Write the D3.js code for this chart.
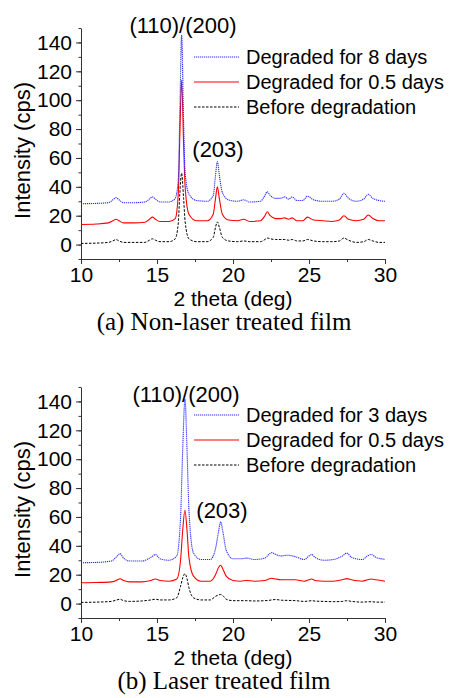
<!DOCTYPE html>
<html lang="en">
<head>
<meta charset="UTF-8">
<title>XRD patterns</title>
<script src="https://cdn.jsdelivr.net/npm/d3@7"></script>
<style>
  body { margin: 0; background: #fff; }
  svg text { font-family: "Liberation Sans", Arial, sans-serif; fill: #000; }
  svg text.caption { font-family: "Liberation Serif", "Times New Roman", serif; }
  .axis path, .axis line { stroke: #333; }
</style>
</head>
<body>
<svg id="chart" width="449" height="698"></svg>
<script>
// panel (a): non-laser treated film
var thetaA = [10, 11, 11.8, 12.1, 12.3, 12.5, 12.8, 13.5, 14.2, 14.5, 14.7, 14.9, 15.2, 15.8, 16.2, 16.4, 16.5, 16.62, 16.75, 16.85, 17.1, 17.6, 18.3, 18.7, 18.85, 18.97, 19.1, 19.3, 19.7, 20.3, 20.7, 21.1, 21.8, 22.1, 22.25, 22.45, 22.8, 23.1, 23.4, 23.65, 23.9, 24.2, 24.6, 24.9, 25.3, 25.9, 26.5, 27.0, 27.3, 27.6, 28.1, 28.6, 28.9, 29.2, 29.6, 30];
var blueA = [28.3, 28.5, 29, 31, 32.5, 31, 29, 29, 29.5, 31.5, 33, 31.5, 29.5, 29.5, 32, 45, 90, 145, 85, 50, 35, 30.5, 30, 34, 48, 57.5, 48, 36, 31, 30, 31, 29.5, 30, 34, 36.6, 34, 32, 32, 33, 31.5, 33, 30.5, 30.5, 33.5, 31, 30, 30, 31.5, 35.5, 32, 30, 31.5, 34.8, 32, 30.5, 30];
var redA = [13.9, 14.2, 15, 16.5, 17.5, 16.5, 15, 15, 15.5, 17.5, 19, 17.5, 16, 16, 18, 35, 75, 114, 70, 40, 21, 16.5, 16.5, 21, 32, 40, 32, 21, 17, 16.5, 17.5, 16, 16.5, 20, 22.7, 20, 18, 18, 18.5, 17.5, 18.5, 16.5, 16.5, 19, 17, 16.5, 16, 17, 20, 17.5, 16.5, 17.5, 20.5, 18, 16.5, 16.5];
var blackA = [0.8, 1, 1.5, 2.5, 3.5, 2.5, 1.5, 1.5, 1.5, 3, 4, 3, 2, 2, 4, 15, 35, 49.5, 32, 16, 4, 2, 2, 5, 12, 15.7, 12, 5, 2.5, 2, 2.5, 2, 2, 3.5, 4.5, 4, 3.5, 3.5, 3.5, 3, 3.5, 2.5, 2.5, 3.5, 2.5, 2, 2, 2.5, 4.5, 3, 1.5, 2, 3.5, 2.5, 1.5, 1.5];

// panel (b): laser treated film
var thetaB = [10, 11, 12, 12.35, 12.57, 12.8, 13.2, 14, 14.6, 14.9, 15.2, 15.8, 16.3, 16.55, 16.7, 16.84, 16.98, 17.1, 17.4, 17.9, 18.5, 18.85, 19.05, 19.19, 19.33, 19.55, 20, 20.5, 20.9, 21.4, 22.1, 22.35, 22.55, 22.8, 23.2, 23.6, 24.1, 24.7, 25.0, 25.18, 25.4, 26, 26.6, 27.2, 27.48, 27.8, 28.5, 28.85, 29.1, 29.4, 30];
var blueB = [28.3, 28.5, 29.5, 32.5, 34.6, 31.5, 29.5, 29.5, 32, 34, 31, 30, 33, 60, 110, 141.5, 105, 65, 35, 30.5, 30.5, 38, 50, 56.6, 50, 37, 31, 31, 31.5, 30.5, 31.5, 34, 35.3, 34, 33, 33.5, 32.5, 30.5, 33, 34, 32, 30, 30.5, 33, 35, 32, 30.5, 33, 34, 32, 30.7];
var redB = [14.4, 14.6, 15, 16.2, 17.2, 16, 15, 15, 16, 17, 16, 15.5, 17, 30, 52, 64.8, 50, 32, 19, 15.5, 15.5, 20, 25, 26.5, 24, 19, 16, 15.5, 16, 15.5, 16, 17, 17.5, 17, 16.5, 16.5, 16.5, 15.5, 16.5, 17, 16, 15.5, 15.5, 16.5, 17.3, 16.5, 15.5, 16.5, 17, 16.5, 15.5];
var blackB = [0.8, 1, 1.5, 2.5, 3, 2, 1.5, 1.8, 2.5, 3, 2.5, 2.5, 4, 12, 18, 20.7, 17, 11, 4, 2.5, 2.5, 5, 6, 6.3, 5.5, 3, 2, 2, 2, 1.8, 2, 2.2, 2.5, 2.8, 2.3, 2.2, 2, 1.5, 1.8, 2, 1.7, 1.5, 1.3, 1.5, 2, 1.5, 1, 1.2, 1.3, 1, 1];

var xTicks = [10, 15, 20, 25, 30];
var yTicks = [0, 20, 40, 60, 80, 100, 120, 140];

var styles = {
    blue: {color: '#2a2aff', dash: '1.2,0.8', width: 1.1},
    red: {color: '#ff0000', dash: null, width: 1.1},
    black: {color: '#000', dash: '2.5,1.5', width: 1}
};

var panels = [
    {top: 28, bottom: 259, theta: thetaA,
     series: [['blue', blueA, 'Degraded for 8 days'], ['red', redA, 'Degraded for 0.5 days'], ['black', blackA, 'Before degradation']],
     caption: '(a) Non-laser treated film', peak1: [183, 33], peak2: [218, 157], legendY: 57, titleY: 306, capY: 330},
    {top: 387, bottom: 618, theta: thetaB,
     series: [['blue', blueB, 'Degraded for 3 days'], ['red', redB, 'Degraded for 0.5 days'], ['black', blackB, 'Before degradation']],
     caption: '(b) Laser treated film', peak1: [186, 402], peak2: [222, 518], legendY: 415, titleY: 665, capY: 689}
];

var svg = d3.select('#chart');

panels.forEach(function (p) {
    var x = d3.scaleLinear().domain([10, 30]).range([81, 385]);
    var y = d3.scaleLinear().domain([-10, 150]).range([p.bottom, p.top]);
    var g = svg.append('g');

    // minor ticks
    var xa = g.append('g').attr('class', 'axis').attr('transform', 'translate(0,' + p.bottom + ')')
        .call(d3.axisBottom(x).tickValues(d3.range(10, 30.1, 2.5)).tickSize(3).tickFormat(''));
    xa.select('.domain').remove();
    var ya = g.append('g').attr('class', 'axis').attr('transform', 'translate(81,0)')
        .call(d3.axisLeft(y).tickValues(d3.range(-10, 150.1, 10)).tickSize(2.5).tickFormat(''));
    ya.select('.domain').remove();

    g.append('g').attr('class', 'axis').attr('transform', 'translate(0,' + p.bottom + ')')
        .call(d3.axisBottom(x).tickValues(xTicks).tickSize(5).tickPadding(3).tickSizeOuter(0))
        .call(function (a) { a.selectAll('text').attr('font-size', 21); });
    g.append('g').attr('class', 'axis').attr('transform', 'translate(81,0)')
        .call(d3.axisLeft(y).tickValues(yTicks).tickSize(5).tickPadding(4).tickSizeOuter(0))
        .call(function (a) { a.selectAll('text').attr('font-size', 21); });

    g.append('text').attr('x', 233).attr('y', p.titleY).attr('text-anchor', 'middle')
        .attr('font-size', 21).text('2 theta (deg)');
    g.append('text').attr('transform', 'translate(30,' + ((p.top + p.bottom) / 2 + 7) + ') rotate(-90)')
        .attr('text-anchor', 'middle').attr('font-size', 22).text('Intensity (cps)');
    g.append('text').attr('class', 'caption').attr('x', 224).attr('y', p.capY)
        .attr('text-anchor', 'middle').attr('font-size', 25).text(p.caption);

    var line = d3.line().x(function (d, i) { return x(p.theta[i]); })
        .y(function (d) { return y(d); }).curve(d3.curveMonotoneX);

    // draw black first so colored lines sit on top
    p.series.slice().reverse().forEach(function (s) {
        var st = styles[s[0]];
        g.append('path').datum(s[1]).attr('d', line).attr('fill', 'none')
            .attr('stroke', st.color).attr('stroke-width', st.width)
            .attr('stroke-dasharray', st.dash);
    });

    p.series.forEach(function (s, i) {
        var st = styles[s[0]], ly = p.legendY + i * 25;
        g.append('line').attr('x1', 194).attr('x2', 239).attr('y1', ly).attr('y2', ly)
            .attr('stroke', st.color).attr('stroke-width', st.width).attr('stroke-dasharray', st.dash);
        g.append('text').attr('x', 246).attr('y', ly + 7).attr('font-size', 20).text(s[2]);
    });

    g.append('text').attr('x', p.peak1[0]).attr('y', p.peak1[1]).attr('text-anchor', 'middle')
        .attr('font-size', 22).text('(110)/(200)');
    g.append('text').attr('x', p.peak2[0]).attr('y', p.peak2[1]).attr('text-anchor', 'middle')
        .attr('font-size', 22).text('(203)');
});
</script>
</body>
</html>
